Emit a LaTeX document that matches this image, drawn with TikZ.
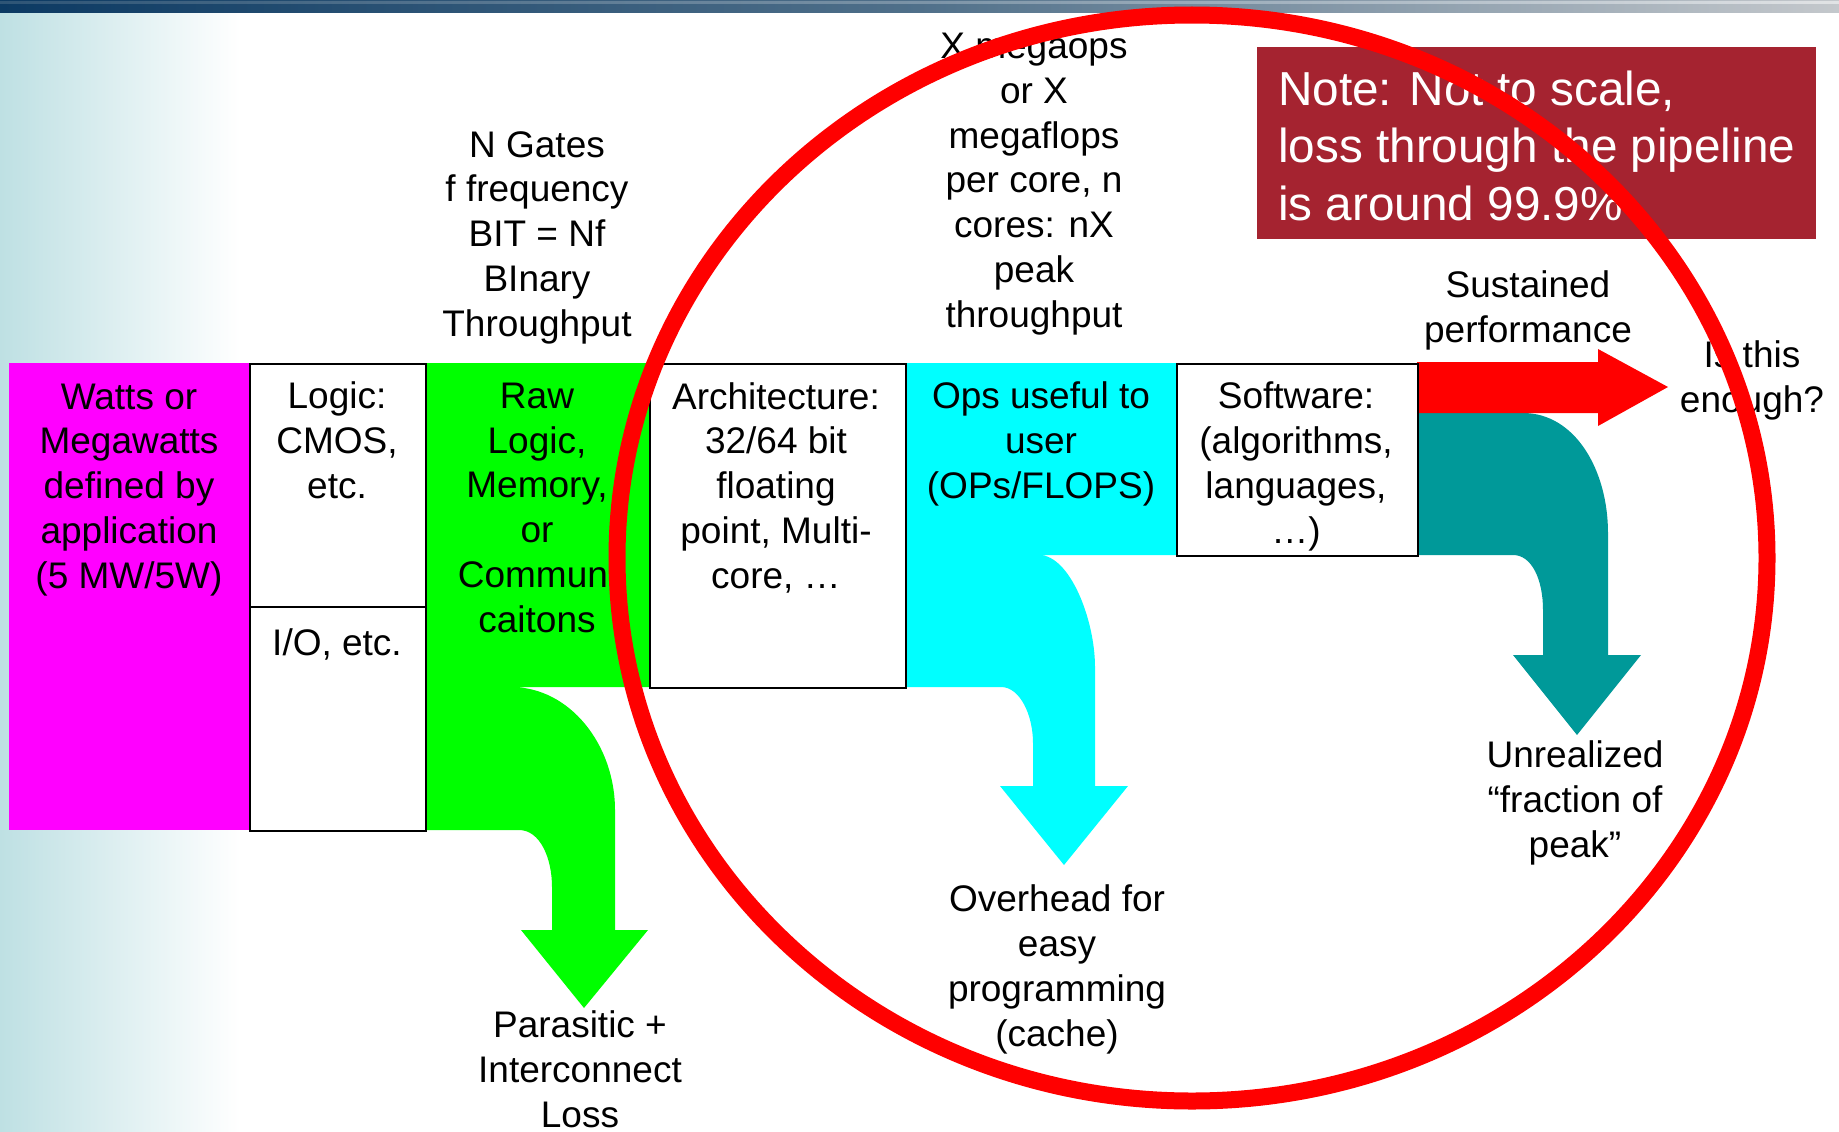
\documentclass[tikz,border=0pt]{standalone}
\usepackage{fontspec}
\setmainfont{Liberation Sans}
\definecolor{mag}{RGB}{255,0,255}
\definecolor{grn}{RGB}{0,255,0}
\definecolor{cyn}{RGB}{0,255,255}
\definecolor{tl}{RGB}{0,153,153}
\definecolor{rd}{RGB}{255,0,0}
\definecolor{notered}{RGB}{165,35,48}
\definecolor{bgteal}{RGB}{190,224,227}
\definecolor{navy}{RGB}{12,58,99}
\definecolor{bandmid}{RGB}{80,112,138}
\definecolor{bandlight}{RGB}{196,200,204}
\begin{document}
\begin{tikzpicture}[x=1pt,y=-1pt,
  txt/.style={font=\fontsize{37}{44.7}\selectfont, align=center, anchor=base, inner sep=0pt},
  whitebox/.style={draw=black, fill=white, line width=2pt, anchor=north west, inner sep=0pt},
  flatbox/.style={anchor=north west, inner sep=0pt, outer sep=0pt}]
\useasboundingbox (0,0) rectangle (1839,1132);
% background
\fill[white] (0,0) rectangle (1839,1132);
\shade[left color=bgteal, right color=white] (0,13) rectangle (240,1132);
\shade[left color=navy, right color=bandlight, middle color=bandmid] (0,0) rectangle (1839,13);
\shade[left color=bandmid, right color=white, opacity=0.5] (0,2) rectangle (1839,4);
% magenta block
\node[flatbox, fill=mag, minimum width=240pt, minimum height=467pt] (power) at (9,363) {};
% green flow
\fill[grn] (425,363) -- (649,363) -- (649,687) -- (511,687)
  .. controls (570,687) and (615,745) .. (615,810) -- (615,930) -- (648,930)
  -- (584,1008) -- (521,930) -- (552,930) -- (552,887)
  .. controls (552,858) and (540,830) .. (519,830) -- (425,830) -- cycle;
% cyan flow
\fill[cyn] (905,363) -- (1176,363) -- (1176,555) -- (1039,555)
  .. controls (1070,555) and (1095,620) .. (1095,667) -- (1095,786) -- (1128,786)
  -- (1064,865) -- (1000,786) -- (1033,786) -- (1033,743)
  .. controls (1033,715) and (1020,687) .. (1001,687) -- (905,687) -- cycle;
% teal flow
\fill[tl] (1417,413) -- (1523,413) .. controls (1575,413) and (1608,470) .. (1608,533)
  -- (1608,655) -- (1641,655) -- (1577,735) -- (1513,655) -- (1543,655) -- (1543,610)
  .. controls (1543,580) and (1532,555) .. (1513,555) -- (1417,555) -- cycle;
% red sustained arrow
\fill[rd] (1417,362) -- (1598,362) -- (1598,349) -- (1668,387) -- (1598,426)
  -- (1598,413) -- (1417,413) -- cycle;
% white boxes
\node[whitebox, minimum width=176pt, minimum height=243pt] (logicbox) at (249,363) {};
\node[whitebox, minimum width=176pt, minimum height=224pt] (iobox) at (249,606) {};
\node[whitebox, minimum width=256pt, minimum height=324pt] (archbox) at (649,363) {};
\node[whitebox, minimum width=241pt, minimum height=192pt] (softbox) at (1176,363) {};
% texts in blocks (anchor base = baseline of last line)
\node[txt] (powertext) at (129,588) {Watts or\\Megawatts\\defined by\\application\\(5 MW/5W)};
\node[txt] (logictext) at (337,498) {Logic:\\CMOS,\\etc.};
\node[txt] (iotext) at (337,655) {I/O, etc.};
\node[txt] (rawtext) at (537,632) {Raw\\Logic,\\Memory,\\or\\Communi\\caitons};
\node[txt] (archtext) at (776,588) {Architecture:\\32/64 bit\\floating\\point, Multi-\\core, …};
\node[txt] (opstext) at (1041,498) {Ops useful to\\user\\(OPs/FLOPS)};
\node[txt] (softtext) at (1296,543) {Software:\\(algorithms,\\languages,\\…)};
% labels above
\node[txt] (gatestext) at (537,336) {N Gates\\f frequency\\BIT = Nf\\BInary\\Throughput};
\node[txt] (megatext) at (1034,327) {X megaops\\or X\\megaflops\\per core, n\\cores: nX\\peak\\throughput};
\node[txt] (sustext) at (1528,342) {Sustained\\performance};
\node[txt] (enoughtext) at (1752,412) {Is this\\enough?};
% labels below
\node[txt] (parasitictext) at (580,1127) {Parasitic +\\Interconnect\\Loss};
\node[txt] (overheadtext) at (1057,1046) {Overhead for\\easy\\programming\\(cache)};
\node[txt] (unrealtext) at (1575,857) {Unrealized\\“fraction of\\peak”};
% note
\node[flatbox, fill=notered, minimum width=559pt, minimum height=192pt] (notebox) at (1257,47) {};
\node[anchor=base west, align=left, inner sep=0pt, text=white,
  font=\fontsize{47.7}{57.5}\selectfont] (notetext) at (1278,220)
  {Note: Not to scale,\\loss through the pipeline\\is around 99.9\%};
% red circle
\draw[rd, line width=17pt] (1192,558) ellipse [x radius=575pt, y radius=543pt];
\end{tikzpicture}
\end{document}
